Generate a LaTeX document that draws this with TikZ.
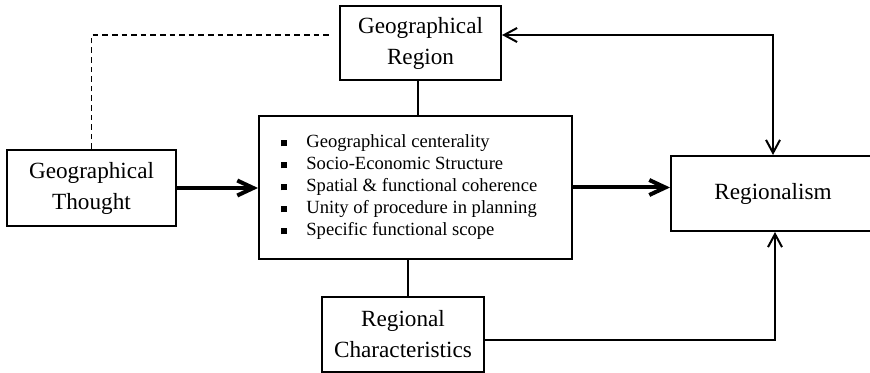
\documentclass[tikz,border=0pt]{standalone}
\usepackage{fontspec}
\setmainfont{Liberation Serif}
\usetikzlibrary{arrows.meta,positioning}
\newcommand{\sqbullet}{\rule[0.8pt]{3pt}{3pt}}

\begin{document}
\begin{tikzpicture}[x=0.5pt,y=-0.5pt,
        box/.style={draw,line width=1pt,inner sep=0pt,align=center,font=\fontsize{11.6}{15.5}\selectfont},
        link/.style={line width=1pt},
        dashlink/.style={line width=0.8pt,dash pattern=on 2.8pt off 2pt},
        bigarrow/.style={line width=2pt,-{Straight Barb[length=8pt,width=7.5pt]}},
        >={Straight Barb[length=6.5pt,width=7pt]}]

    \useasboundingbox (0,0) rectangle (870,373);

    % boxes
    \node[box,minimum width=80.5pt,minimum height=37pt] (region) at (420.5,43) {Geographical\\Region};
    \node[box,minimum width=84.5pt,minimum height=38pt] (thought) at (91.5,188) {Geographical\\Thought};
    \node[box,minimum width=156.5pt,minimum height=71.5pt] (items) at (415.5,187.5) {};
    \node[box,minimum width=102pt,minimum height=37.5pt] (regionalism) at (773,193.5) {Regionalism};
    \node[box,minimum width=81pt,minimum height=37.5pt] (traits) at (403,334.5) {Regional\\Characteristics};

    % bullet list inside the central box
    \node[anchor=west,inner sep=0pt,font=\fontsize{9.3}{11}\selectfont] (list) at (280.5,187.5) {%
        \begin{tabular}{@{}l@{\hspace{9.75pt}}l@{}}
            \sqbullet & Geographical centerality\\
            \sqbullet & Socio-Economic Structure\\
            \sqbullet & Spatial \& functional coherence\\
            \sqbullet & Unity of procedure in planning\\
            \sqbullet & Specific functional scope
        \end{tabular}};

    % connectors
    \draw[dashlink,shorten >=3.5pt] (thought.north) |- ([yshift=4pt]region.west);
    \draw[link] ([xshift=-1.25pt]region.south) -- ([xshift=-1.25pt]region.south |- items.north);
    \draw[link] ([xshift=2.5pt]traits.north) -- ([xshift=2.5pt]traits.north |- items.south);
    \draw[link,<->] ([yshift=4pt]region.east) -| (regionalism.north);
    \draw[link,->] ([yshift=-2.75pt]traits.east) -| ([xshift=1pt]regionalism.south);
    \draw[bigarrow] (thought.east) -- (thought.east -| items.west);
    \draw[bigarrow] (items.east) -- (items.east -| regionalism.west);
\end{tikzpicture}
\end{document}
